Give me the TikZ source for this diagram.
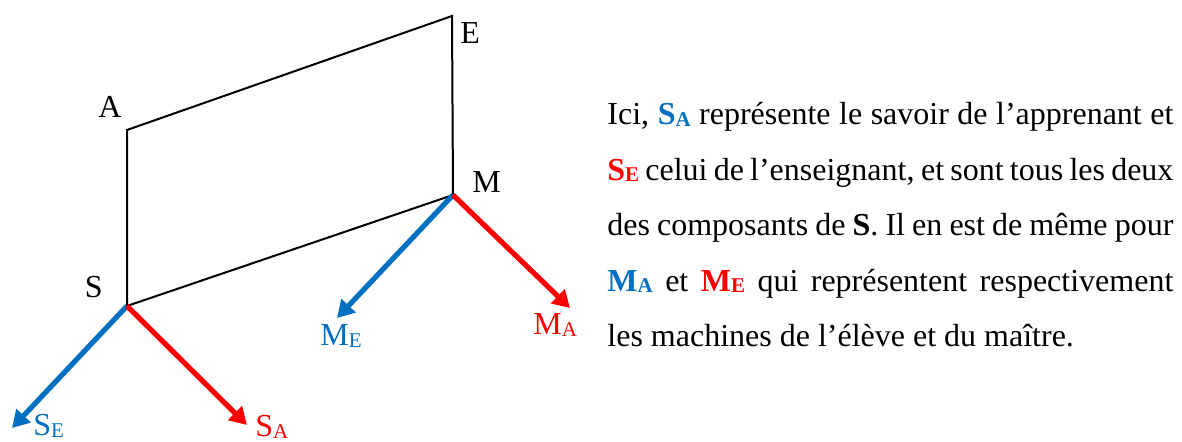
\documentclass[tikz,border=0pt]{standalone}
\usepackage{fontspec}
\setmainfont{Liberation Serif}
\usetikzlibrary{positioning,arrows.meta}
\definecolor{wblue}{HTML}{0070C0}
\definecolor{wred}{HTML}{FF0000}
\newcommand{\subidx}[1]{\raisebox{-0.6pt}{\fontsize{10.5}{11}\selectfont #1}}
\newcommand{\vsym}[3]{\textbf{\color{#1}#2\subidx{#3}}}
\tikzset{
  lab/.style={inner sep=0pt,font=\fontsize{16}{18}\selectfont},
  para/.style={inner sep=0pt,text width=283pt,align=justify,font=\fontsize{16}{27.75}\selectfont},
  edge/.style={line width=1pt},
  vec/.style={line width=2.6pt,-{Triangle[length=8.5pt,width=9.5pt]}},
}
\begin{document}
\begin{tikzpicture}[x=1pt,y=1pt]
\useasboundingbox (0,0) rectangle (591,221);
\coordinate (S) at (63.5,68);
\coordinate (A) at (63.5,156);
\coordinate (E) at (226,213);
\coordinate (M) at (226.5,123.5);
\coordinate (SEtip) at (6,7);
\coordinate (SAtip) at (123.5,8.5);
\coordinate (MEtip) at (168.5,62);
\coordinate (MAtip) at (285,67);
\draw[edge] (S) -- (A) -- (E) -- (M) -- cycle;
\draw[vec,wblue] (S) -- (SEtip);
\draw[vec,wred] (S) -- (SAtip);
\draw[vec,wblue] (M) -- (MEtip);
\draw[vec,wred] (M) -- (MAtip);
\node (lA) [lab,above left=6pt and 2.5pt of A] {A};
\node (lE) [lab,below right=3pt and 4pt of E] {E};
\node (lM) [lab,above right=1pt and 9.5pt of M] {M};
\node (lS) [lab,above left=4pt and 12pt of S] {S};
\node (lSE) [lab,wblue,below right=4pt and 10.5pt of SEtip,anchor=base west] {S\subidx{E}};
\node (lSA) [lab,wred,below right=6pt and 4pt of SAtip,anchor=base west] {S\subidx{A}};
\node (lME) [lab,wblue,below left=14pt and 8.5pt of MEtip,anchor=base west] {M\subidx{E}};
\node (lMA) [lab,wred,below left=13.5pt and 18.5pt of MAtip,anchor=base west] {M\subidx{A}};
\node (txt) [para,anchor=base west] at (303.5,158.5) {Ici, \vsym{wblue}{S}{A} représente le savoir de l’apprenant et\linebreak
\vsym{wred}{S}{E} celui de l’enseignant, et sont tous les deux\linebreak
des composants de \textbf{S}. Il en est de même pour\linebreak
\vsym{wblue}{M}{A} et \vsym{wred}{M}{E} qui représentent respectivement\linebreak
les machines de l’élève et du maître.};
\end{tikzpicture}
\end{document}
